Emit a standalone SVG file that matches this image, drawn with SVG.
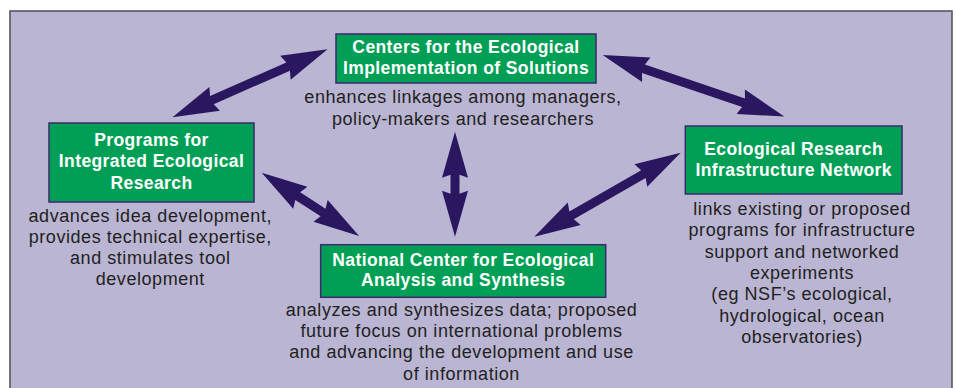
<svg xmlns="http://www.w3.org/2000/svg" width="956" height="388" viewBox="0 0 956 388">
<style>
.bg{fill:#b9b5d3;stroke:#58565c;stroke-width:1.6}
.box{fill:#009f55;stroke:#3a2a6e;stroke-width:1.5}
.t{font-family:"Liberation Sans",Arial,sans-serif;font-weight:bold;font-size:17.5px;fill:#ffffff;text-anchor:middle;letter-spacing:0.4px}
.d{font-family:"Liberation Sans",Arial,sans-serif;font-size:18px;fill:#231f20;text-anchor:middle;letter-spacing:0.55px}
.arr{fill:#2b1760}
</style>
<rect class="bg" x="10" y="11" width="942" height="390"/>
<g id="connectors">
<path class="arr" transform="translate(172.5,117.3) rotate(-23.69)" d="M0,0 L46,-13 L43,-4.5 L126.3,-4.5 L123.3,-13 L169.3,0 L123.3,13 L126.3,4.5 L43,4.5 L46,13 Z"/>
<path class="arr" transform="translate(602.7,55) rotate(18.71)" d="M0,0 L46,-13 L43,-4.5 L148.7,-4.5 L145.7,-13 L191.7,0 L145.7,13 L148.7,4.5 L43,4.5 L46,13 Z"/>
<path class="arr" transform="translate(261.7,172.7) rotate(33)" d="M0,0 L46,-13 L43,-4.5 L73.2,-4.5 L70.2,-13 L116.2,0 L70.2,13 L73.2,4.5 L43,4.5 L46,13 Z"/>
<path class="arr" transform="translate(455,131.7) rotate(90)" d="M0,0 L46,-13 L43,-4.5 L62,-4.5 L59,-13 L105,0 L59,13 L62,4.5 L43,4.5 L46,13 Z"/>
<path class="arr" transform="translate(534.3,236.7) rotate(-29.85)" d="M0,0 L46,-13 L43,-4.5 L125.8,-4.5 L122.8,-13 L168.8,0 L122.8,13 L125.8,4.5 L43,4.5 L46,13 Z"/>
</g>
<g id="ceis">
<rect class="box" x="336" y="34" width="260" height="49"/>
<text class="t" x="466" y="52.5">Centers for the Ecological</text>
<text class="t" x="466" y="73.5">Implementation of Solutions</text>
<text class="d" x="463" y="103">enhances linkages among managers,</text>
<text class="d" x="463" y="124.5">policy-makers and researchers</text>
</g>
<g id="pier">
<rect class="box" x="49" y="123" width="205" height="79"/>
<text class="t" x="151.5" y="145.7">Programs for</text>
<text class="t" x="151.5" y="167">Integrated Ecological</text>
<text class="t" x="151.5" y="189">Research</text>
<text class="d" x="150.3" y="221.7">advances idea development,</text>
<text class="d" x="150.3" y="242.7">provides technical expertise,</text>
<text class="d" x="150.3" y="263.7">and stimulates tool</text>
<text class="d" x="150.3" y="285">development</text>
</g>
<g id="erin">
<rect class="box" x="685.3" y="126" width="216.7" height="68"/>
<text class="t" x="793.7" y="154.5">Ecological Research</text>
<text class="t" x="793.7" y="175.7">Infrastructure Network</text>
<text class="d" x="802" y="215">links existing or proposed</text>
<text class="d" x="802" y="236.3">programs for infrastructure</text>
<text class="d" x="802" y="257.7">support and networked</text>
<text class="d" x="802" y="279">experiments</text>
<text class="d" x="802" y="300.3">(eg NSF’s ecological,</text>
<text class="d" x="802" y="321.7">hydrological, ocean</text>
<text class="d" x="802" y="343">observatories)</text>
</g>
<g id="nceas">
<rect class="box" x="320.7" y="244.7" width="285" height="52.6"/>
<text class="t" x="463.2" y="266">National Center for Ecological</text>
<text class="t" x="463.2" y="286">Analysis and Synthesis</text>
<text class="d" x="461.5" y="315.5">analyzes and synthesizes data; proposed</text>
<text class="d" x="461.5" y="337">future focus on international problems</text>
<text class="d" x="461.5" y="358.3">and advancing the development and use</text>
<text class="d" x="461.5" y="379.5">of information</text>
</g>
</svg>
